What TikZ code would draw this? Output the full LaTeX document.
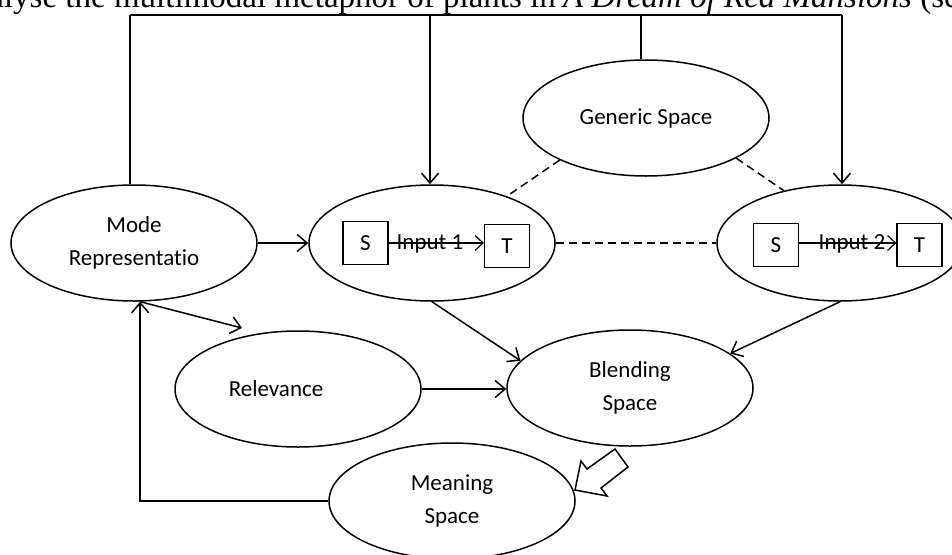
\documentclass[tikz,border=0pt]{standalone}
\usepackage{fontspec}
\setmainfont{Carlito}[Ligatures=NoCommon]
\newfontfamily\timesf{Liberation Serif}
\usetikzlibrary{arrows.meta,shapes.geometric}
\begin{document}
\begin{tikzpicture}[x=1pt,y=-1pt,
  every node/.style={font=\fontsize{23}{33}\selectfont},
  spacenode/.style={draw, ellipse, line width=1.5pt, minimum width=246pt, minimum height=116pt, inner sep=0pt, align=center},
  stbox/.style={draw, line width=1.2pt, minimum width=45pt, minimum height=43pt, inner sep=0pt},
  conn/.style={line width=1.5pt},
  arr/.style={conn, -{Straight Barb[length=10pt,width=17pt]}},
  smallarr/.style={line width=1.2pt, -{Straight Barb[length=8pt,width=15pt]}},
  dashconn/.style={line width=1.5pt, dash pattern=on 8pt off 5pt},
  captext/.style={inner sep=0pt, font=\timesf\fontsize{33}{36}\selectfont}
]
\useasboundingbox (0,0) rectangle (952,554);
\clip (0,0) rectangle (952,554);

% caption line (cut off at the top, as in the reference)
\node[captext, anchor=base east] (cap1) at (556,7) {analyse the multimodal metaphor of plants in};
\node[captext, anchor=base west] (cap2) at (563,7) {\textit{A Dream of Red Mansions} (see};

% spaces
\node[spacenode] (mode) at (134,243) {Mode\\Representatio};
\node[spacenode] (in1) at (432,243) {};
\node[spacenode] (gen) at (646,118) {Generic Space};
\node[spacenode] (in2) at (840,243) {};
\node[spacenode, label={[name=reltext, xshift=-22pt]center:Relevance}] (rel) at (298,389) {};
\node[spacenode] (blend) at (630,388) {Blending\\Space};
\node[spacenode] (mean) at (452,501) {Meaning\\Space};

% inputs
\node[stbox] (s1) at (365.5,243) {S};
\node[stbox] (t1) at (507,246) {T};
\node[stbox] (s2) at (776,245) {S};
\node[stbox] (t2) at (919.5,245) {T};
\node (lab1) at (430,244) {Input 1};
\node (lab2) at (852,244) {Input 2};
\draw[smallarr] (s1.east |- 0,243) -- (t1.west |- 0,243);
\draw[smallarr] (s2.east |- 0,243) -- (t2.west |- 0,243);

% top frame
\coordinate (tl) at (130,15);
\coordinate (tm1) at (430,15);
\coordinate (tm2) at (641,15);
\coordinate (tr) at (842,15);
\draw[conn] (tl) -- (tr);
\draw[conn] (tl) -- (tl |- mode.north);
\draw[arr] (tm1) -- (tm1 |- in1.north);
\draw[conn] (tm2) -- (tm2 |- gen.north);
\draw[arr] (tr) -- (tr |- in2.north);

% dashed links
\draw[dashconn] (gen.206) -- (in1.32);
\draw[dashconn] (gen.-24) -- (in2.137);
\draw[dashconn] (in1.east) -- (in2.west);

% arrows
\coordinate (relarr) at (242,328);
\draw[arr] (mode.east) -- (in1.west);
\draw[arr] (mode.-84) -- (relarr);
\draw[arr] (in1.south) -- (blend.166);
\draw[arr] (in2.south) -- (blend.19);
\draw[arr] (rel.east) -- (rel.east -| blend.west);
\draw[arr] (mean.west) -| (mode.-84);

% hollow block arrow
\draw[line width=1.5pt, fill=white, line join=miter]
  (575,490) -- (581,461) -- (587,469) -- (615,449) -- (628,467) -- (601,488) -- (607,496) -- cycle;
\end{tikzpicture}
\end{document}
